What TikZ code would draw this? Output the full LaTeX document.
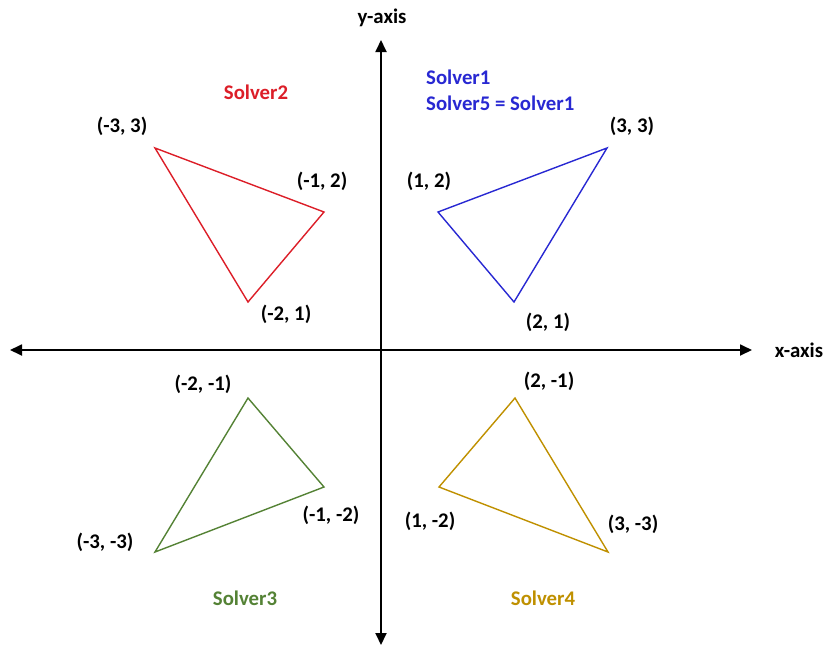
\documentclass[tikz,border=0pt]{standalone}
\usepackage{fontspec}
\setmainfont{Carlito}
\usetikzlibrary{arrows.meta}

\begin{document}
\begin{tikzpicture}[x=1pt,y=-1pt,
  lbl/.style={font=\bfseries\fontsize{20.8}{24}\selectfont, inner sep=0pt},
  tri/.style={line width=1.4pt, line join=miter},
  axis/.style={line width=1.8pt, -{Triangle[length=12pt,width=11pt]}}]
\definecolor{sred}{RGB}{220,30,40}
\definecolor{sblue}{RGB}{40,40,210}
\definecolor{sgreen}{RGB}{84,130,53}
\definecolor{sgold}{RGB}{191,144,0}

\useasboundingbox (0,0) rectangle (825,646);

% axes
\coordinate (o) at (381,350);
\coordinate (xl) at (10,350);
\coordinate (xr) at (752,350);
\coordinate (yt) at (381,40);
\coordinate (yb) at (381,645);
\draw[axis] (o) -- (xr);
\draw[axis] (o) -- (xl);
\draw[axis] (o) -- (yt);
\draw[axis] (o) -- (yb);
\node[lbl] (xlab) at (799,350) {x-axis};
\node[lbl] (ylab) at (382,18) {y-axis};

% Solver1 (blue)
\coordinate (b1) at (438,212);
\coordinate (b2) at (607,148);
\coordinate (b3) at (514,302);
\draw[tri,sblue] (b1) -- (b2) -- (b3) -- cycle;
\node[lbl] (b1lab) at (429,181) {(1, 2)};
\node[lbl] (b2lab) at (632,126) {(3, 3)};
\node[lbl] (b3lab) at (548,322) {(2, 1)};
\node[lbl,sblue,anchor=west] (s1) at (426,77) {Solver1};
\node[lbl,sblue,anchor=west] (s5) at (426,103) {Solver5 = Solver1};

% Solver2 (red)
\coordinate (r1) at (155,148);
\coordinate (r2) at (324,212);
\coordinate (r3) at (248,302);
\draw[tri,sred] (r1) -- (r2) -- (r3) -- cycle;
\node[lbl] (r1lab) at (122,126) {(-3, 3)};
\node[lbl] (r2lab) at (322,181) {(-1, 2)};
\node[lbl] (r3lab) at (286,314) {(-2, 1)};
\node[lbl,sred] (s2) at (256,92) {Solver2};

% Solver3 (green)
\coordinate (g1) at (248,398);
\coordinate (g2) at (324,487);
\coordinate (g3) at (155,552);
\draw[tri,sgreen] (g1) -- (g2) -- (g3) -- cycle;
\node[lbl] (g1lab) at (203,384) {(-2, -1)};
\node[lbl] (g2lab) at (331,515) {(-1, -2)};
\node[lbl] (g3lab) at (105,542) {(-3, -3)};
\node[lbl,sgreen] (s3) at (245,598) {Solver3};

% Solver4 (gold)
\coordinate (y1) at (515,398);
\coordinate (y2) at (439,487);
\coordinate (y3) at (608,552);
\draw[tri,sgold] (y1) -- (y2) -- (y3) -- cycle;
\node[lbl] (y1lab) at (549,381) {(2, -1)};
\node[lbl] (y2lab) at (430,521) {(1, -2)};
\node[lbl] (y3lab) at (633,524) {(3, -3)};
\node[lbl,sgold] (s4) at (543,598) {Solver4};
\end{tikzpicture}
\end{document}
